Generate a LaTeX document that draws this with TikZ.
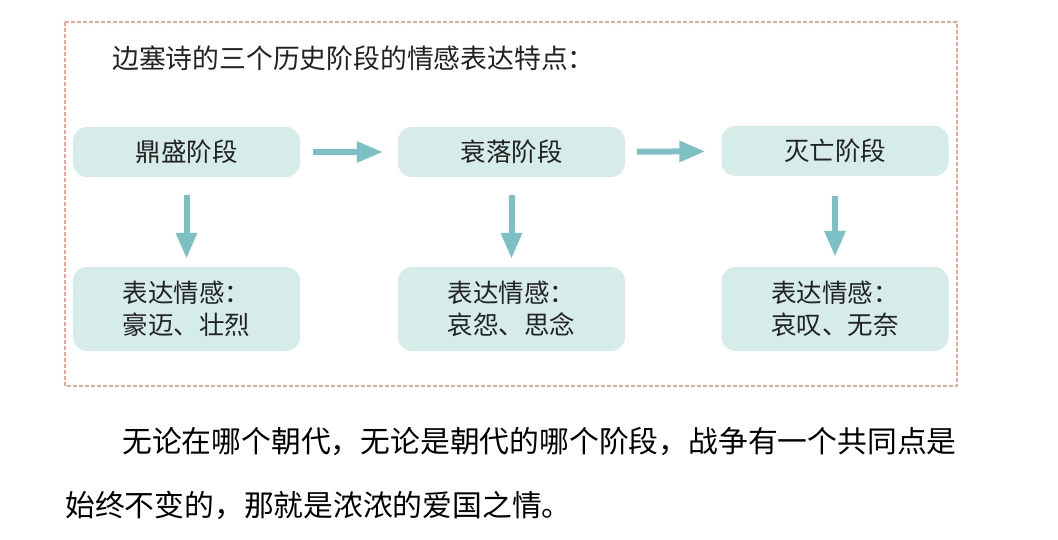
\documentclass[tikz,border=0pt]{standalone}
\usepackage{fontspec}
\setmainfont{Noto Sans CJK SC}
\newfontfamily\cjk{Noto Sans CJK SC}
\usetikzlibrary{arrows.meta}
\definecolor{boxfill}{HTML}{D5ECE8}
\definecolor{arrowc}{HTML}{7CC0C4}
\definecolor{borderc}{HTML}{F2A494}
\definecolor{txt}{HTML}{222222}
\tikzset{
  stagebox/.style={fill=boxfill, rounded corners=14pt, minimum height=50pt, minimum width=227pt, inner sep=0pt, text=txt, font=\cjk\fontsize{25.5}{28}\selectfont},
  emobox/.style={fill=boxfill, rounded corners=14pt, minimum height=84pt, minimum width=227pt, inner sep=0pt, text=txt, align=left, font=\cjk\fontsize{25.5}{32}\selectfont},
  arr/.style={draw=arrowc, line width=6pt, -{Triangle[length=26pt,width=20pt]}},
  para/.style={anchor=west, inner sep=0pt, text=black, font=\cjk\fontsize{29.8}{34}\selectfont}
}
\begin{document}
\begin{tikzpicture}[x=1pt,y=-1pt]
\useasboundingbox (0,0) rectangle (1058,540);
\draw[borderc, line width=1.3pt, dash pattern=on 4pt off 2pt] (65,22) rectangle (957,386);
\node[anchor=west, inner sep=0pt, text=txt, font=\cjk\fontsize{26.8}{30}\selectfont] (title) at (112,58) {边塞诗的三个历史阶段的情感表达特点：};
\node[stagebox] (s1) at (186.5,152) {鼎盛阶段};
\node[stagebox] (s2) at (511.5,152) {衰落阶段};
\node[stagebox] (s3) at (835,151) {灭亡阶段};
\node[emobox] (e1) at (186.5,309) {表达情感：\\豪迈、壮烈};
\node[emobox] (e2) at (511.5,309) {表达情感：\\哀怨、思念};
\node[emobox] (e3) at (835,309) {表达情感：\\哀叹、无奈};
\draw[arr, shorten <=13pt, shorten >=15pt] (s1) -- (s2);
\draw[arr, shorten <=12pt, shorten >=16pt] (s2) -- (s3);
\draw[arr, shorten <=18pt, shorten >=8pt] (s1) -- (e1);
\draw[arr, shorten <=18pt, shorten >=8pt] (s2) -- (e2);
\draw[arr, shorten <=20pt, shorten >=10pt] (s3) -- (e3);
\node[para] (p1) at (122,441) {无论在哪个朝代，无论是朝代的哪个阶段，战争有一个共同点是};
\node[para] (p2) at (65,505) {始终不变的，那就是浓浓的爱国之情。};
\end{tikzpicture}
\end{document}
